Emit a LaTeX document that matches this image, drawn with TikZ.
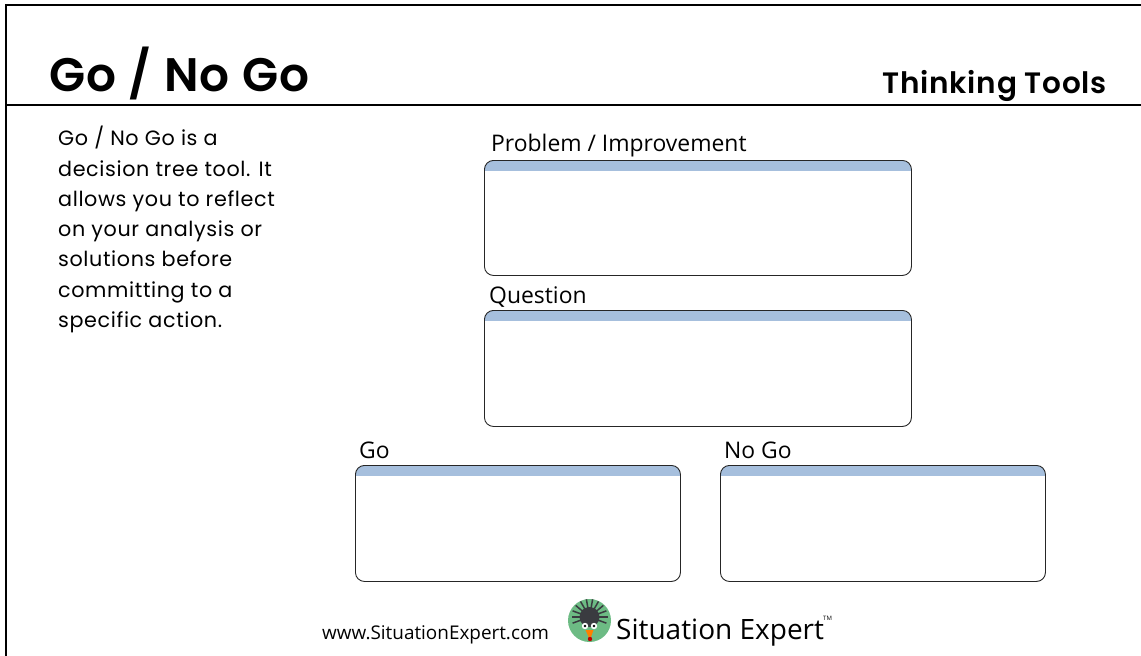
\documentclass[tikz,border=0pt]{standalone}
\usepackage{fontspec}
\setmainfont[LetterSpace=3]{Poppins}
\newfontfamily\labelfont{Open Sans}
\newfontfamily\titlefont[LetterSpace=2.5]{Poppins SemiBold}
\definecolor{bandblue}{HTML}{A6BFDD}
\definecolor{logogreen}{HTML}{6DBB84}
\definecolor{logodark}{HTML}{3A3B40}
\usetikzlibrary{positioning}
\tikzset{
	sheetline/.style={black, line width=2.2pt},
	heading/.style={anchor=base west, inner sep=0pt, font=\labelfont\fontsize{22.9}{26}\selectfont, text=black},
	toolbox/.style={draw=black!85, line width=0.9pt, rounded corners=9pt, anchor=north west, inner sep=0pt,
		path picture={\fill[bandblue, sharp corners] (path picture bounding box.north west) rectangle ([yshift=-11pt]path picture bounding box.north east);}},
}
\begin{document}
\begin{tikzpicture}[x=1pt,y=-1pt]
	\useasboundingbox (0,0) rectangle (1141,656);
	\coordinate (topleft) at (6,5);
	\coordinate (topright) at (1141,5);
	\coordinate (bottomleft) at (6,656);
	\coordinate (ruleleft) at (6,105);
	\coordinate (ruleright) at (1141,105);
	\draw[sheetline] (topright) -- (topleft) -- (bottomleft);
	\draw[sheetline] (ruleleft) -- (ruleright);

	\node[anchor=base west, inner sep=0pt, font=\titlefont\fontsize{47}{50}\selectfont] (title) at (49,91) {Go / No Go};
	\node[anchor=base east, inner sep=0pt, font=\titlefont\fontsize{29.5}{32}\selectfont] (tools) at (1107,93) {Thinking Tools};
	\node[anchor=north west, inner sep=0pt, align=left, font=\fontsize{20.7}{30.3}\selectfont] (intro) at (58,126)
		{Go / No Go is a\\decision tree tool. It\\allows you to reflect\\on your analysis or\\solutions before\\committing to a\\specific action.};

	\node[toolbox, minimum width=427pt, minimum height=115pt] (problem) at (484,160) {};
	\node[toolbox, minimum width=427pt, minimum height=116pt] (question) at (484,310) {};
	\node[toolbox, minimum width=325pt, minimum height=116pt] (go) at (355,465) {};
	\node[toolbox, minimum width=325pt, minimum height=116pt] (nogo) at (720,465) {};

	\node[heading] (problemlabel) at (491,151) {Problem / Improvement};
	\node[heading] (questionlabel) at (489,303) {Question};
	\node[heading] (golabel) at (359,458) {Go};
	\node[heading] (nogolabel) at (724,458) {No Go};

	\node[anchor=base west, inner sep=0pt, font=\labelfont\fontsize{18.9}{22}\selectfont] (website) at (322,639) {www.SituationExpert.com};
	\node[circle, fill=logogreen, minimum size=43pt, inner sep=0pt] (logo) at (589.5,620.5) {};
	\node[circle, fill=logodark, minimum size=20pt, inner sep=0pt] (body) at (589.5,617) {};
	\foreach \a in {-20,0,...,200}
		\draw[logodark, line width=1.5pt] (body.center) -- ++(\a:18pt);
	\fill[white] (585,626) circle (3.2pt) (594,626) circle (3.2pt);
	\fill[black] (585,626) circle (1.4pt) (594,626) circle (1.4pt);
	\fill[orange] (585.5,630) -- (593.5,630) -- (590,640) -- cycle;
	\fill[red!75!black] (590,639) circle (2.2pt);
	\node[anchor=base west, inner sep=0pt, font=\labelfont\fontsize{28}{36}\selectfont] (brand) at (616,639) {Situation Expert};
	\node[anchor=base west, inner sep=0pt, font=\labelfont\fontsize{6}{7}\selectfont] (tm) at (823,620) {TM};
\end{tikzpicture}
\end{document}
